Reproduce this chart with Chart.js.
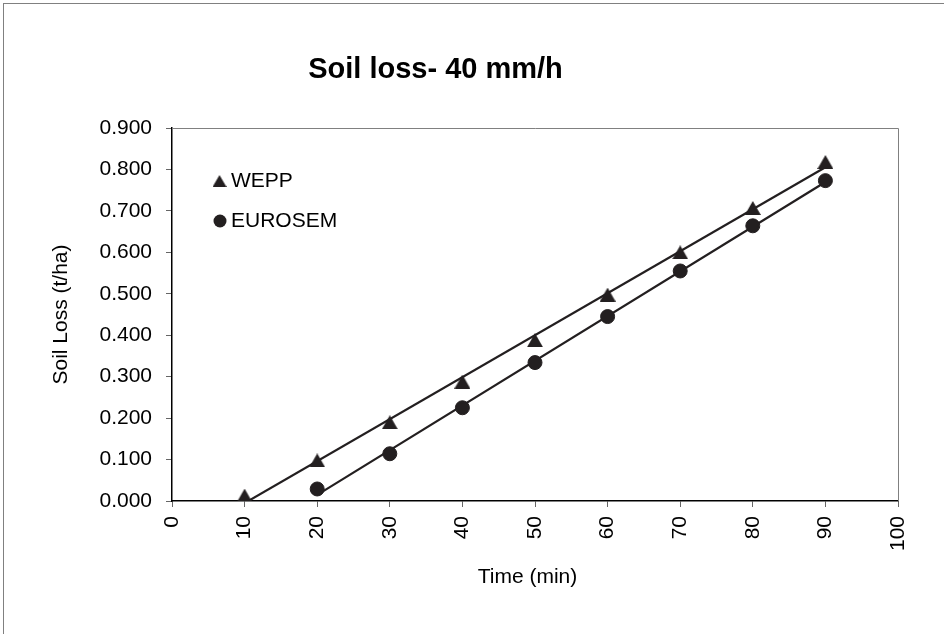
<!DOCTYPE html>
<html><head><meta charset="utf-8">
<script src="https://cdn.jsdelivr.net/npm/chart.js@4/dist/chart.umd.min.js"></script>
<style>html,body{margin:0;padding:0;background:#fff;}canvas{display:block;}</style>
</head><body>
<canvas id="c" width="944" height="634"></canvas>
<script>
const chartTitle = 'Soil loss- 40 mm/h';
const xTitle = 'Time (min)';
const yTitle = 'Soil Loss (t/ha)';
const seriesNames = ['WEPP', 'EUROSEM'];
const weppTime = [10, 20, 30, 40, 50, 60, 70, 80, 90];
const weppLoss = [0.013, 0.098, 0.190, 0.288, 0.388, 0.498, 0.600, 0.707, 0.818];
const eurosemTime = [20, 30, 40, 50, 60, 70, 80, 90];
const eurosemLoss = [0.029, 0.114, 0.225, 0.334, 0.445, 0.555, 0.664, 0.773];
const xTickValues = [0, 10, 20, 30, 40, 50, 60, 70, 80, 90, 100];
const yTickValues = [0, 0.1, 0.2, 0.3, 0.4, 0.5, 0.6, 0.7, 0.8, 0.9];

const INK = '#231f20';
const FONT = "'Liberation Sans', Arial, sans-serif";

function toPoints(xs, ys) { return xs.map((x, i) => ({x: x, y: ys[i]})); }
function trend(xs, ys) {
  const n = xs.length;
  const mx = xs.reduce((a, b) => a + b, 0) / n;
  const my = ys.reduce((a, b) => a + b, 0) / n;
  let sxy = 0, sxx = 0;
  for (let i = 0; i < n; i++) { sxy += (xs[i] - mx) * (ys[i] - my); sxx += (xs[i] - mx) ** 2; }
  const b = sxy / sxx, a = my - b * mx;
  const x0 = Math.min(...xs), x1 = Math.max(...xs);
  return [{x: x0, y: a + b * x0}, {x: x1, y: a + b * x1}];
}
function triCanvas(w, h) {
  const c = document.createElement('canvas');
  c.width = w; c.height = h;
  const g = c.getContext('2d');
  g.fillStyle = INK;
  g.beginPath(); g.moveTo(w / 2, 0); g.lineTo(w, h); g.lineTo(0, h); g.closePath(); g.fill();
  return c;
}
const triMarker = triCanvas(16, 14);
const triLegend = triCanvas(14, 12);

const framePlugin = {
  id: 'frame',
  beforeDraw(chart) {
    const ctx = chart.ctx;
    ctx.save();
    ctx.strokeStyle = '#808080';
    ctx.lineWidth = 1;
    ctx.strokeRect(3.5, 3.5, 2000, 2000);
    ctx.restore();
  },
  beforeDatasetsDraw(chart) {
    const {ctx, chartArea: a} = chart;
    ctx.save();
    ctx.strokeStyle = '#808080';
    ctx.lineWidth = 1;
    ctx.beginPath();
    ctx.moveTo(a.left, Math.round(a.top) + 0.5);
    ctx.lineTo(Math.round(a.right) + 0.5, Math.round(a.top) + 0.5);
    ctx.lineTo(Math.round(a.right) + 0.5, a.bottom);
    ctx.stroke();
    ctx.restore();
  },
  afterDraw(chart) {
    const ctx = chart.ctx;
    ctx.save();
    ctx.fillStyle = '#000';
    ctx.font = 'bold 29px ' + FONT;
    ctx.textAlign = 'center';
    ctx.textBaseline = 'middle';
    ctx.fillText(chartTitle, 435.5, 70);
    ctx.font = '21px ' + FONT;
    ctx.fillText(xTitle, 527.5, 577);
    // legend
    ctx.textAlign = 'left';
    ctx.drawImage(triLegend, 219.5 - 7, 181 - 6);
    ctx.fillText(chart.data.datasets[0].label, 231, 181);
    ctx.fillStyle = INK;
    ctx.beginPath(); ctx.arc(220, 221, 6.5, 0, Math.PI * 2); ctx.fill();
    ctx.fillStyle = '#000';
    ctx.fillText(chart.data.datasets[1].label, 231, 221);
    ctx.restore();
  }
};

new Chart(document.getElementById('c'), {
  type: 'scatter',
  data: {
    datasets: [
      {label: seriesNames[0], data: toPoints(weppTime, weppLoss), pointStyle: triMarker, backgroundColor: INK, borderColor: INK, showLine: false, order: 0},
      {label: seriesNames[1], data: toPoints(eurosemTime, eurosemLoss), pointStyle: 'circle', pointRadius: 7, borderWidth: 1, backgroundColor: INK, borderColor: INK, showLine: false, order: 0},
      {label: 'WEPP trend', data: trend(weppTime, weppLoss), showLine: true, pointRadius: 0, borderColor: INK, borderWidth: 2.2, order: 1},
      {label: 'EUROSEM trend', data: trend(eurosemTime, eurosemLoss), showLine: true, pointRadius: 0, borderColor: INK, borderWidth: 2.2, order: 1}
    ]
  },
  options: {
    responsive: false,
    animation: false,
    devicePixelRatio: 1,
    layout: {padding: {left: 40, top: 128, right: 46, bottom: 40}},
    plugins: {legend: {display: false}, tooltip: {enabled: false}, title: {display: false}},
    scales: {
      x: {
        type: 'linear', min: 0, max: 100,
        afterBuildTicks(s) { s.ticks = xTickValues.map(v => ({value: v})); },
        afterFit(s) { s.height = 93; },
        grid: {drawOnChartArea: false, drawTicks: true, tickLength: 6, color: '#666'},
        border: {display: true, color: '#000', width: 1.5},
        ticks: {autoSkip: false, minRotation: 90, maxRotation: 90, padding: 9, color: '#000', font: {family: FONT, size: 21}, callback: v => String(v)},
        title: {display: false}
      },
      y: {
        type: 'linear', min: 0, max: 0.9,
        afterBuildTicks(s) { s.ticks = yTickValues.map(v => ({value: v})); },
        afterFit(s) { s.width = 132; },
        grid: {drawOnChartArea: false, drawTicks: true, tickLength: 6, color: '#666'},
        border: {display: true, color: '#000', width: 1.5},
        ticks: {padding: 14, color: '#000', font: {family: FONT, size: 21}, callback: v => Number(v).toFixed(3)},
        title: {display: true, text: yTitle, color: '#000', font: {family: FONT, size: 21}, padding: {top: 9, bottom: 0}}
      }
    }
  },
  plugins: [framePlugin]
});
</script>
</body></html>
